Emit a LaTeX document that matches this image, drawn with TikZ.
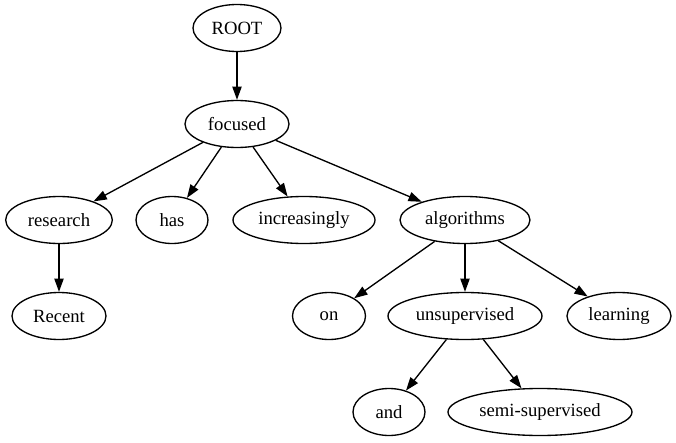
\documentclass[tikz,border=0pt]{standalone}
\usepackage{fontspec}
\setmainfont{Liberation Serif}
\usetikzlibrary{arrows.meta,shapes.geometric}
\begin{document}
\begin{tikzpicture}[x=0.75pt,y=-0.75pt,
  word/.style={draw,ellipse,line width=1pt,inner sep=0pt,minimum height=35.25pt,font=\fontsize{14pt}{16pt}\selectfont},
  dep/.style={line width=1pt,-{Triangle[length=10pt,width=7pt]}}]
\useasboundingbox (0,0) rectangle (676,443);
% tree nodes, pixel-based positions
\node[word,minimum width=66pt]  (root) at (237,28) {ROOT};
\node[word,minimum width=78pt]  (focused) at (237,124) {focused};
\node[word,minimum width=80pt]  (research) at (59,220) {research};
\node[word,minimum width=54pt]  (has) at (172,220) {has};
\node[word,minimum width=106.5pt] (increasingly) at (304,220) {increasingly};
\node[word,minimum width=97.5pt] (algorithms) at (465,220) {algorithms};
\node[word,minimum width=70.5pt] (recent) at (59,316) {Recent};
\node[word,minimum width=54.75pt] (on) at (329,316) {on};
\node[word,minimum width=115.5pt] (unsupervised) at (465,316) {unsupervised};
\node[word,minimum width=78pt]  (learning) at (619,316) {learning};
\node[word,minimum width=54pt]  (and) at (389,412) {and};
\node[word,minimum width=138pt] (semi) at (540,412) {semi-supervised};
% dependency edges
\draw[dep] (root) -- (focused);
\draw[dep] (focused) -- (research);
\draw[dep] (focused) -- (has);
\draw[dep] (focused) -- (increasingly);
\draw[dep] (focused) -- (algorithms);
\draw[dep] (research) -- (recent);
\draw[dep] (algorithms) -- (on);
\draw[dep] (algorithms) -- (unsupervised);
\draw[dep] (algorithms) -- (learning);
\draw[dep] (unsupervised) -- (and);
\draw[dep] (unsupervised) -- (semi);
\end{tikzpicture}
\end{document}
